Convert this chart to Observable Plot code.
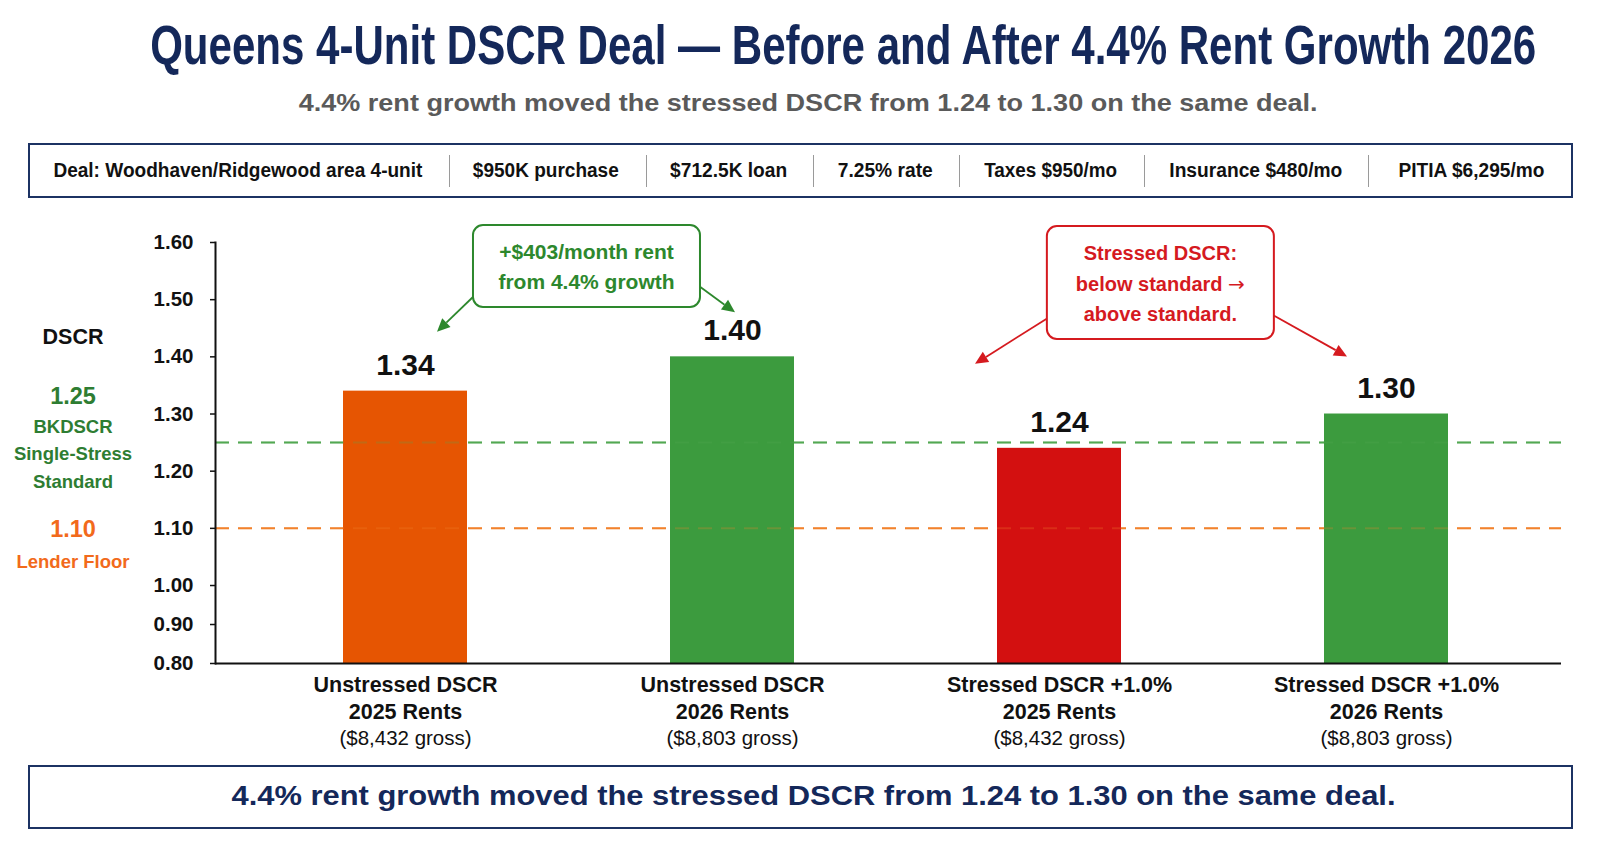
<!DOCTYPE html>
<html>
<head>
<meta charset="utf-8">
<script src="https://cdn.jsdelivr.net/npm/d3@7"></script>
<script src="https://cdn.jsdelivr.net/npm/@observablehq/plot@0.6"></script>
<style>
  body { margin: 0; background: #fff; font-family: "Liberation Sans", Arial, Helvetica, sans-serif; }
  #page { position: relative; width: 1600px; height: 842px; overflow: hidden; background: #fff; }
  .t { position: absolute; white-space: nowrap; line-height: 1; transform-origin: center center; }
  .box { position: absolute; box-sizing: border-box; border: 2px solid #1c3263; background: #fff; }
  .sep { position: absolute; width: 1px; background: #9a9a9a; }
</style>
</head>
<body>
<div id="page"></div>
<script>
// ---------- data ----------
const scenarios = ["Unstressed 2025", "Unstressed 2026", "Stressed 2025", "Stressed 2026"];
const dscrValues = [1.34, 1.40, 1.24, 1.30];
const labelLine1 = ["Unstressed DSCR", "Unstressed DSCR", "Stressed DSCR +1.0%", "Stressed DSCR +1.0%"];
const labelLine2 = ["2025 Rents", "2026 Rents", "2025 Rents", "2026 Rents"];
const grossRents = [8432, 8803, 8432, 8803];
const yTicks = [0.80, 0.90, 1.00, 1.10, 1.20, 1.30, 1.40, 1.50, 1.60];
const yBreak = 1.00;                      // the axis is compressed below 1.00
const thresholdValues = [1.25, 1.10];
const thresholdLabels = [["BKDSCR", "Single-Stress", "Standard"], ["Lender Floor"]];
const dealTerms = ["Deal: Woodhaven/Ridgewood area 4-unit", "$950K purchase", "$712.5K loan",
  "7.25% rate", "Taxes $950/mo", "Insurance $480/mo", "PITIA $6,295/mo"];
const rentIncrease = 403;
const rentGrowthPct = 4.4;

const titleText = "Queens 4-Unit DSCR Deal — Before and After 4.4% Rent Growth 2026";
const takeaway = "4.4% rent growth moved the stressed DSCR from 1.24 to 1.30 on the same deal.";

// ---------- styles ----------
const NAVY = "#14285a";
const barColors = ["#e65502", "#3c9b3e", "#d31010", "#3c9b3e"];
const thresholdColors = ["#52a852", "#f2822c"];
const thresholdTextColors = ["#2e7d32", "#f26a1b"];
const FONT = "'Liberation Sans', Arial, Helvetica, sans-serif";
const LOWER_SQUEEZE = 0.682;              // relative height of one unit below the break

// compressed lower segment of the DSCR axis, and its inverse for tick labels
const squeezeY = v => (v >= yBreak ? v : yBreak - (yBreak - v) * LOWER_SQUEEZE);
const unsqueezeY = v => (v >= yBreak ? v : yBreak - (yBreak - v) / LOWER_SQUEEZE);

const rows = scenarios.map((s, i) => ({
  scenario: s, dscr: dscrValues[i], line1: labelLine1[i], line2: labelLine2[i], gross: grossRents[i]
}));
const thresholds = thresholdValues.map((v, i) => ({value: v, color: thresholdColors[i]}));

const page = document.getElementById("page");

// place a single line of text centred on (cx, cy); optionally squeeze it to a given width
function put(text, o) {
  const el = document.createElement("div");
  el.className = "t";
  el.textContent = text;
  el.style.fontSize = o.size + "px";
  el.style.fontWeight = o.weight || "bold";
  el.style.color = o.color || "#111";
  page.appendChild(el);
  const r = el.getBoundingClientRect();
  el.style.left = (o.cx - r.width / 2) + "px";
  el.style.top = (o.cy - r.height / 2) + "px";
  if (o.width) el.style.transform = `scaleX(${o.width / r.width})`;
  return el;
}
function box(x0, y0, x1, y1) {
  const el = document.createElement("div");
  el.className = "box";
  Object.assign(el.style, {left: x0 + "px", top: y0 + "px", width: (x1 - x0) + "px", height: (y1 - y0) + "px"});
  page.appendChild(el);
}

// ---------- header ----------
put(titleText, {cx: 843, cy: 45, size: 56, color: NAVY, width: 1386});
put(takeaway, {cx: 808, cy: 103, size: 24, color: "#5a5a5a", width: 1019});

// deal terms strip
box(28, 143, 1573, 198);
const termCenters = [237.5, 546, 728.5, 885.5, 1050.5, 1255.5, 1471.5];
const termWidths = [369, 146, 117, 95, 133, 173, 146];
const sepX = [449, 646, 813, 959, 1144, 1368];
dealTerms.forEach((t, i) => put(t, {cx: termCenters[i], cy: 170.5, size: 19.5, color: "#111", width: termWidths[i]}));
sepX.forEach(x => {
  const s = document.createElement("div");
  s.className = "sep";
  Object.assign(s.style, {left: x + "px", top: "155px", height: "32px"});
  page.appendChild(s);
});

// ---------- chart ----------
const SVG_TOP = 205;
const chart = Plot.plot({
  width: 1600,
  height: 550,
  marginTop: 37,
  marginBottom: 92,
  marginLeft: 215,
  marginRight: 39,
  style: {fontFamily: FONT, fontSize: "20px", color: "#111", background: "transparent", overflow: "visible"},
  x: {domain: scenarios, range: [241, 1550], paddingInner: 0.62, paddingOuter: 0.31, axis: null},
  y: {transform: squeezeY, domain: [squeezeY(yTicks[0]), yTicks[yTicks.length - 1]], axis: null},
  color: {domain: scenarios, range: barColors},
  marks: [
    // threshold lines behind the bars
    Plot.ruleY(thresholds, {y: "value", stroke: "color", strokeWidth: 2, strokeDasharray: "14,9"}),
    Plot.barY(rows, {x: "scenario", y1: yTicks[0], y2: "dscr", fill: "scenario"}),
    // faint continuation of the threshold lines across the bars
    Plot.ruleY(thresholds, {y: "value", stroke: "color", strokeWidth: 2, strokeDasharray: "14,9", strokeOpacity: 0.25}),
    Plot.ruleY([yTicks[0]], {stroke: "#111", strokeWidth: 2}),
    Plot.frame({anchor: "left", stroke: "#111", strokeWidth: 2}),
    // axis ticks are placed in the compressed space and labelled with their DSCR value
    Plot.axisY({ticks: yTicks.map(squeezeY), tickFormat: t => d3.format(".2f")(unsqueezeY(t)),
      tickSize: 5, tickPadding: 17, fontSize: 20.5, fontWeight: "bold", strokeWidth: 1.5, label: null}),
    Plot.text(rows, {x: "scenario", y: "dscr", text: d => d.dscr.toFixed(2), dy: -26,
      lineAnchor: "middle", fontSize: 30, fontWeight: "bold", fill: "#111"}),
    Plot.text(rows, {x: "scenario", text: "line1", frameAnchor: "bottom", lineAnchor: "middle", dy: 22,
      fontSize: 21.5, fontWeight: "bold", fill: "#111"}),
    Plot.text(rows, {x: "scenario", text: "line2", frameAnchor: "bottom", lineAnchor: "middle", dy: 49,
      fontSize: 21.5, fontWeight: "bold", fill: "#111"}),
    Plot.text(rows, {x: "scenario", text: d => `($${d3.format(",")(d.gross)} gross)`, frameAnchor: "bottom",
      lineAnchor: "middle", dy: 75, fontSize: 20.5, fill: "#111"})
  ]
});
Object.assign(chart.style, {position: "absolute", left: "0px", top: SVG_TOP + "px"});
page.appendChild(chart);

// ---------- callouts ----------
const xs = chart.scale("x"), ys = chart.scale("y");
const barCenter = i => xs.apply(scenarios[i]) + xs.bandwidth / 2;
const barTop = i => ys.apply(squeezeY(dscrValues[i]));
const svg = d3.select(chart);

const callouts = [
  {
    lines: [`+$${rentIncrease}/month rent`, `from ${rentGrowthPct}% growth`],
    color: "#2d882d", between: [0, 1], frac: 0.555, top: 20, w: 227, h: 82, lineY: [27, 57], size: 21,
    arrows: [{side: 0, sy: 71, bar: 0, dx: 32, dy: -59}, {side: 1, sy: 61, bar: 1, dx: 3, dy: -44}]
  },
  {
    lines: ["Stressed DSCR:", "below standard →", "above standard."],
    color: "#d51a1f", between: [2, 3], frac: 0.31, top: 21, w: 227, h: 113, lineY: [27, 58, 88], size: 20,
    arrows: [{side: 0, sy: 92, bar: 2, dx: -84, dy: -84}, {side: 1, sy: 89, bar: 3, dx: -39, dy: -57}]
  }
];

callouts.forEach(c => {
  const [a, b] = c.between;
  const cx = barCenter(a) + (barCenter(b) - barCenter(a)) * c.frac;
  const x0 = cx - c.w / 2;
  const g = svg.append("g").attr("fill", "none");

  c.arrows.forEach(ar => {
    const sx = ar.side === 0 ? x0 + 1 : x0 + c.w - 1;
    const sy = c.top + ar.sy;
    const tx = barCenter(ar.bar) + ar.dx;
    const ty = barTop(ar.bar) + ar.dy;
    const ang = Math.atan2(ty - sy, tx - sx);
    const L = 13, W = 6;
    const bx = tx - L * Math.cos(ang), by = ty - L * Math.sin(ang);
    g.append("line").attr("x1", sx).attr("y1", sy).attr("x2", bx).attr("y2", by)
      .attr("stroke", c.color).attr("stroke-width", 1.8);
    g.append("polygon")
      .attr("points", [
        [tx, ty],
        [bx + W * Math.sin(ang), by - W * Math.cos(ang)],
        [bx - W * Math.sin(ang), by + W * Math.cos(ang)]
      ].map(p => p.join(",")).join(" "))
      .attr("fill", c.color);
  });

  g.append("rect").attr("x", x0).attr("y", c.top).attr("width", c.w).attr("height", c.h)
    .attr("rx", 10).attr("fill", "#fff").attr("stroke", c.color).attr("stroke-width", 2);
  c.lines.forEach((line, i) => {
    const text = g.append("text").attr("x", cx).attr("y", c.top + c.lineY[i]).attr("dy", "0.35em")
      .attr("text-anchor", "middle").attr("fill", c.color)
      .attr("font-size", c.size).attr("font-weight", "bold");
    // the arrow glyph comes from DejaVu, which draws it at full width
    line.split(/(→)/).filter(s => s).forEach(part => {
      const ts = text.append("tspan").text(part);
      if (part === "→") ts.attr("font-family", "'DejaVu Sans', sans-serif").attr("font-weight", "normal");
    });
  });
});

// ---------- left-hand key ----------
put("DSCR", {cx: 73, cy: 338, size: 21.5, color: "#111"});
put(thresholdValues[0].toFixed(2), {cx: 73, cy: 397, size: 23.5, color: thresholdTextColors[0]});
thresholdLabels[0].forEach((t, i) => put(t, {cx: 73, cy: 427 + i * 27.5, size: 18.5, color: thresholdTextColors[0]}));
put(thresholdValues[1].toFixed(2), {cx: 73, cy: 530, size: 23.5, color: thresholdTextColors[1]});
thresholdLabels[1].forEach((t, i) => put(t, {cx: 73, cy: 562 + i * 27.5, size: 18.5, color: thresholdTextColors[1]}));

// ---------- takeaway banner ----------
box(28, 765, 1573, 829);
put(takeaway, {cx: 813, cy: 796, size: 28, color: NAVY, width: 1164});
</script>
</body>
</html>
